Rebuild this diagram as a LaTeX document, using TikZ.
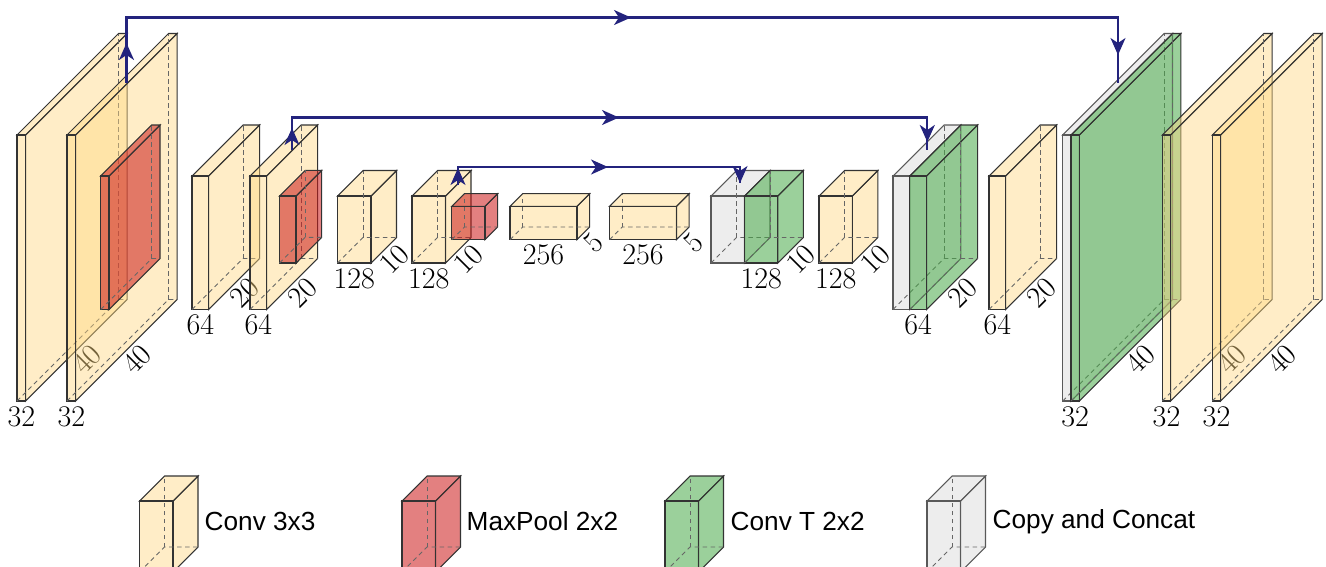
\documentclass[tikz,border=0pt]{standalone}
\usepackage{fontspec}
\newfontfamily\legendfont{Liberation Sans}
\usetikzlibrary{calc,arrows.meta}
\definecolor{convcol}{RGB}{255,216,130}
\definecolor{poolcol}{RGB}{204,24,24}
\definecolor{upcol}{RGB}{72,170,72}
\definecolor{copycol}{RGB}{205,205,205}
\definecolor{skipcol}{RGB}{35,35,125}
\tikzset{
  edge/.style={draw=black!80,line width=1.05pt},
  hidden/.style={draw=black!60,line width=.9pt,dash pattern=on 4.5pt off 3.5pt},
  conv/.style={fill=convcol,fill opacity=.45},
  pool/.style={fill=poolcol,fill opacity=.55},
  upconv/.style={fill=upcol,fill opacity=.55},
  copyc/.style={draw=black!65,fill=copycol,fill opacity=.36},
  dimtext/.style={font=\fontsize{30}{32}\selectfont,text=black,inner sep=0pt},
  legendtext/.style={font=\legendfont\fontsize{26.2}{30}\selectfont,text=black,inner sep=0pt,anchor=west},
  skip/.style={draw=skipcol,line width=2.2pt},
  skiptip/.style={skip,-{Stealth[length=17pt,width=15pt,inset=5pt]}}
}
% name, x, bottom, width, height, depth, style
\newcommand{\layerbox}[7]{
  \filldraw[edge,#7] (#2+#4,#3) -- ++(#6,-#6) -- ++(0,-#5) -- ++(-#6,#6) -- cycle;
  \filldraw[edge,#7] (#2,#3-#5) -- ++(#6,-#6) -- ++(#4,0) -- ++(-#6,#6) -- cycle;
  \filldraw[edge,#7] (#2,#3) rectangle ++(#4,-#5);
  \draw[hidden] (#2,#3) -- ++(#6,-#6) coordinate (#1-back) -- ++(#4,0);
  \draw[hidden] (#1-back) -- ++(0,-#5);
  \coordinate (#1-low) at (#2+#4/2,#3);
  \coordinate (#1-mid) at (#2+#4+#6/2,#3-#6/2);
}
% name, width label, depth label
\newcommand{\dimlabels}[3]{
  \node[dimtext] (#1-w) at ($(#1-low)+(0,15.5)$) {#2};
  \node[dimtext,rotate=45] (#1-d) at ($(#1-mid)+(10.5,9)$) {#3};
}
\begin{document}
\begin{tikzpicture}[x=1pt,y=-1pt]
  \useasboundingbox (0,0) rectangle (1326,566);
  \clip (0,0) rectangle (1326,566);

  % encoder
  \layerbox{inA}{17}{401}{8.7}{266}{101.5}{conv} \dimlabels{inA}{32}{40}
  \layerbox{inB}{67}{401}{8.7}{266}{101.5}{conv} \dimlabels{inB}{32}{40}
  \layerbox{poolA}{100.7}{309.5}{8.3}{133.5}{51}{pool}
  \layerbox{enA}{192}{309.5}{16.7}{133.5}{51}{conv} \dimlabels{enA}{64}{20}
  \layerbox{enB}{250}{309.5}{16.7}{133.5}{51}{conv} \dimlabels{enB}{64}{20}
  \layerbox{poolB}{279.5}{263}{16.5}{67}{25.7}{pool}
  \layerbox{enC}{337.5}{263}{33.5}{67}{25.5}{conv} \dimlabels{enC}{128}{10}
  \layerbox{enD}{412}{263}{33.5}{67}{25.5}{conv} \dimlabels{enD}{128}{10}
  \layerbox{poolC}{451.7}{239.7}{33.3}{33.4}{12.7}{pool}

  % bottom
  \layerbox{botA}{510}{239.7}{67}{33.4}{12.7}{conv} \dimlabels{botA}{256}{5}
  \layerbox{botB}{609.5}{239.7}{67}{33.4}{12.7}{conv} \dimlabels{botB}{256}{5}

  % decoder
  \layerbox{cpA}{711}{263}{33.5}{67}{25.5}{copyc}
  \layerbox{upA}{744.5}{263}{33.3}{67}{25.5}{upconv} \dimlabels{upA}{128}{10}
  \layerbox{deA}{819}{263}{33.3}{67}{25.5}{conv} \dimlabels{deA}{128}{10}
  \layerbox{cpB}{893}{309.5}{16.8}{133.5}{51}{copyc}
  \layerbox{upB}{909.8}{309.5}{16.8}{133.5}{51}{upconv} \dimlabels{upB}{64}{20}
  \layerbox{deB}{989}{309.5}{16.7}{133.5}{51}{conv} \dimlabels{deB}{64}{20}
  \layerbox{cpC}{1062.7}{401}{8.3}{266}{101.5}{copyc}
  \layerbox{upC}{1071}{401}{8.3}{266}{101.5}{upconv} \dimlabels{upC}{32}{40}
  \layerbox{deC}{1162.3}{401}{8.4}{266}{101.5}{conv} \dimlabels{deC}{32}{40}
  \layerbox{deD}{1212.3}{401}{8.4}{266}{101.5}{conv} \dimlabels{deD}{32}{40}

  % skip connections
  \coordinate (fromA) at (126.5,83);
  \coordinate (overA) at (620,17.5);
  \coordinate (toA) at (1118,83);
  \coordinate (fromB) at (292,150);
  \coordinate (overB) at (608,117.5);
  \coordinate (toB) at (927.3,150);
  \coordinate (fromC) at (458,185);
  \coordinate (overC) at (597,167);
  \coordinate (toC) at (740,183);
  \foreach \s/\m/\t in {fromA/overA/toA,fromB/overB/toB,fromC/overC/toC}{
    \draw[skip] (\s) |- (\m) -| (\t);
    \draw[skiptip] (\m) -- ++(11,0);
  }
  \draw[skiptip] (fromA) -- ++(0,-40);
  \draw[skiptip] (fromB) -- ++(0,-22);
  \draw[skiptip] (fromC) -- ++(0,-17);
  \draw[skiptip] ($(toA)+(0,-50)$) -- ++(0,22);
  \draw[skiptip] ($(toB)+(0,-33)$) -- ++(0,25);
  \draw[skiptip] ($(toC)+(0,-16)$) -- ++(0,16);

  % legend
  \layerbox{keyA}{139.5}{572}{33.5}{71}{25}{conv}
  \node[legendtext] (keyAtext) at (204.5,521) {Conv 3x3};
  \layerbox{keyB}{402}{572}{33.5}{71}{25}{pool}
  \node[legendtext] (keyBtext) at (466.5,521) {MaxPool 2x2};
  \layerbox{keyC}{665}{572}{33.5}{71}{25}{upconv}
  \node[legendtext] (keyCtext) at (730.5,521) {Conv T 2x2};
  \layerbox{keyD}{927}{572}{33.5}{71}{25}{copyc}
  \node[legendtext] (keyDtext) at (992.5,521.5) {Copy and Concat};
\end{tikzpicture}
\end{document}
